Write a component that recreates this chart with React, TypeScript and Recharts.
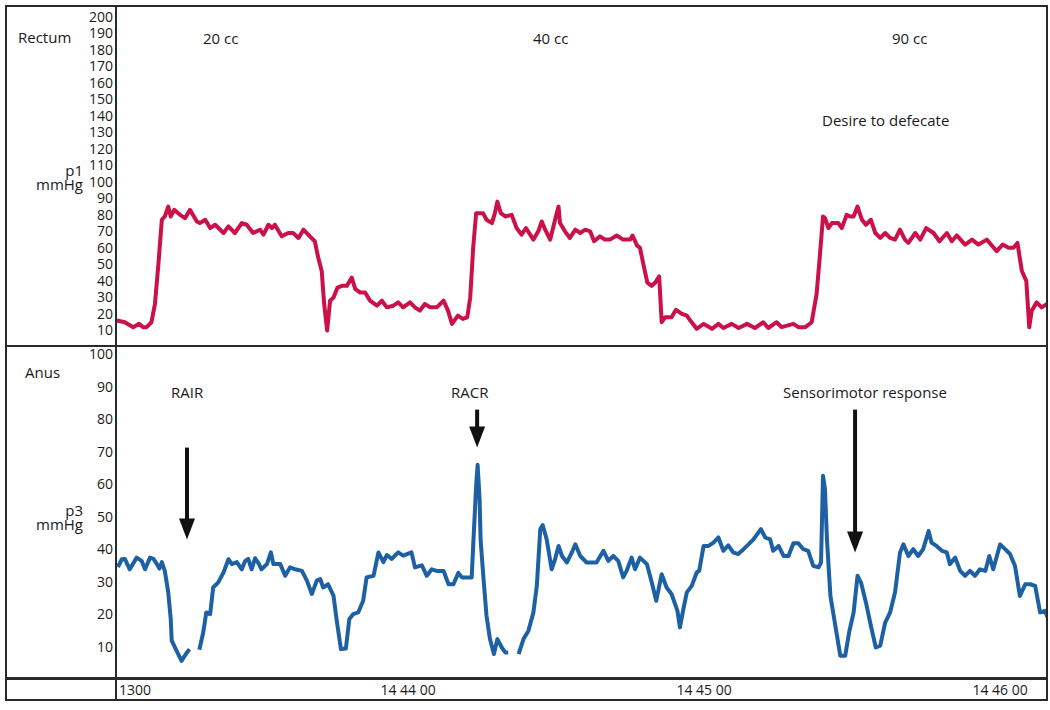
import React from "react";
import { LineChart, Line, XAxis, YAxis, ReferenceLine } from "recharts";

// seconds after 14:43:00, pressure in mmHg
const rectumTrace: [number, number][] = [
  [1.0, 16], [2.6, 15], [4.3, 12], [5.5, 14], [6.3, 12], [7.0, 12], [8.0, 15], [8.7, 26],
  [9.4, 50], [10.1, 77], [10.7, 79], [11.4, 85], [11.9, 79], [12.6, 83], [13.8, 80], [14.8, 78],
  [15.8, 83], [17.2, 76], [17.8, 75], [18.9, 77], [19.9, 72], [20.9, 74], [22.6, 69], [23.6, 73],
  [24.9, 69], [26.3, 75], [27.3, 74], [28.6, 69], [30.0, 71], [30.7, 68], [31.7, 74], [32.4, 72],
  [33.0, 74], [34.4, 67], [35.7, 69], [36.7, 69], [37.8, 66], [38.8, 71], [40.1, 67], [41.1, 64],
  [41.8, 54], [42.5, 46], [43.0, 26], [43.6, 10], [44.2, 28], [44.9, 30], [45.7, 36], [46.6, 37],
  [47.6, 37], [48.6, 42], [49.3, 35], [50.3, 33], [51.3, 33], [52.3, 28], [53.7, 25], [54.7, 28],
  [55.7, 24], [57.0, 25], [58.0, 27], [59.0, 24], [60.4, 27], [61.4, 24], [62.4, 22], [63.4, 26],
  [64.5, 24], [65.8, 24], [67.2, 28], [68.1, 22], [68.9, 14], [70.1, 19], [71.1, 17], [72.0, 18],
  [72.6, 30], [73.2, 60], [73.8, 81], [74.6, 81], [75.2, 81], [75.9, 77], [77.0, 75], [77.6, 81],
  [78.1, 88], [78.8, 81], [79.7, 79], [81.0, 80], [82.0, 72], [83.0, 68], [83.9, 72], [85.4, 65],
  [86.4, 70], [87.1, 76], [87.8, 71], [88.8, 65], [89.8, 77], [90.5, 85], [90.8, 75], [91.8, 70],
  [92.8, 66], [93.9, 71], [94.9, 69], [95.9, 71], [96.9, 70], [97.7, 64], [98.9, 67], [99.9, 65],
  [100.9, 65], [102.3, 67.5], [103.6, 65], [105.0, 65], [105.5, 67.5], [106.4, 61.5], [107.0, 60],
  [107.7, 50], [108.5, 39], [109.4, 37], [110.1, 39], [110.9, 42.7], [111.4, 15], [112.1, 18],
  [113.4, 18], [114.3, 22.5], [115.5, 20], [116.5, 19], [117.2, 16], [118.5, 11], [119.9, 14],
  [121.6, 11], [122.9, 14], [123.9, 11.5], [125.6, 14], [127.0, 11.5], [128.7, 14], [130.3, 11.5],
  [132.0, 15], [133.0, 11.5], [134.7, 15], [135.7, 12], [138.1, 14], [139.1, 12], [140.5, 12],
  [141.8, 15], [142.8, 32], [143.5, 56.5], [144.1, 79], [144.5, 78], [145.2, 72], [145.9, 75],
  [147.2, 75], [147.9, 72], [148.9, 80], [149.6, 79], [150.3, 79], [151.1, 85], [152.0, 77],
  [152.8, 74], [153.8, 77], [154.7, 69], [155.7, 66], [156.7, 69], [157.7, 66], [158.7, 65],
  [159.7, 71], [160.7, 65], [161.4, 63], [162.8, 69], [163.8, 65], [165.0, 72], [166.5, 69],
  [167.7, 64], [169.2, 69], [170.2, 64], [171.2, 67.5], [172.9, 62], [174.3, 65], [175.6, 62],
  [177.3, 65], [179.3, 58], [180.5, 62], [181.7, 60], [182.7, 60], [183.5, 63], [184.4, 46],
  [185.3, 40], [185.9, 12], [186.4, 22], [187.4, 27], [188.4, 24], [189.5, 26],
];

// null = gap in the recording
const anusTrace: [number, number | null][] = [
  [1.2, 34.5], [2.0, 36.9], [2.6, 37], [3.6, 33.8], [5.0, 37.4], [6.0, 36.4], [6.7, 33.8],
  [7.7, 37.4], [8.4, 37], [9.1, 35.4], [9.6, 34], [10.1, 36], [10.7, 33.3], [11.4, 26.7],
  [11.9, 18.5], [12.1, 11.8], [13.1, 8.7], [14.1, 5.6], [14.8, 7.3], [15.7, 9.2], [16.5, null],
  [17.7, 9], [18.5, 14.4], [19.1, 20.5], [19.9, 20], [20.5, 28.2], [21.5, 29.7], [22.6, 32.8],
  [23.6, 36.9], [24.3, 35.4], [25.3, 36], [26.3, 33.8], [27.0, 36.4], [27.6, 37], [28.3, 33.8],
  [29.0, 37.2], [29.7, 35.6], [30.3, 33.8], [31.4, 35.4], [32.2, 39], [32.7, 35.4], [34.1, 35.4],
  [35.1, 31.8], [36.1, 34.4], [37.1, 33.8], [38.5, 33.3], [39.5, 30.3], [40.5, 26.2], [41.5, 30.3],
  [42.2, 30.8], [42.8, 28.2], [43.8, 29.2], [44.9, 25.6], [45.5, 18.5], [46.4, 9.2], [47.4, 9.4],
  [48.1, 18.5], [48.9, 20], [49.9, 20.5], [50.9, 24.1], [51.6, 31.3], [53.0, 31.8], [54.0, 39],
  [55.0, 36], [55.7, 38.2], [56.7, 37], [58.0, 39], [59.0, 38], [60.7, 39], [61.4, 34.4],
  [62.8, 35], [63.8, 31.8], [64.8, 33.8], [65.8, 33.3], [67.2, 33.3], [68.2, 29.2], [69.2, 29.2],
  [70.2, 32.7], [70.9, 31.3], [72.9, 31.3], [73.2, 41], [73.8, 59.5], [74.1, 66], [74.5, 55.4],
  [74.7, 43], [75.3, 30.8], [75.9, 19.5], [76.6, 12.3], [77.4, 7.7], [78.1, 12.3], [79.0, 9.7],
  [79.7, 8.2], [80.3, 8.2], [81.4, null], [82.4, 7.7], [83.4, 12.3], [84.4, 14.9], [85.4, 20.5],
  [86.1, 28.7], [86.8, 46.2], [87.3, 47.4], [88.1, 43], [89.1, 33.8], [89.8, 36.9], [90.5, 41],
  [91.2, 37.9], [92.2, 35.9], [93.2, 39], [93.9, 41.5], [94.9, 37.9], [96.2, 35.9], [98.2, 35.9],
  [99.6, 39.5], [100.6, 36.4], [101.6, 37.9], [102.6, 36.4], [103.6, 31.3], [104.3, 33.3],
  [105.3, 37.4], [106.0, 33.8], [107.0, 37.4], [108.4, 35.4], [109.4, 29.7], [110.3, 24.1],
  [111.4, 32.3], [112.4, 28.2], [113.4, 26.2], [114.6, 21], [115.1, 15.9], [115.8, 21.5],
  [116.5, 26.7], [117.5, 28.7], [118.5, 32.8], [119.0, 33.3], [119.9, 41], [120.9, 41], [121.9, 42],
  [122.9, 43.6], [123.9, 39.5], [124.9, 41.2], [125.9, 39], [126.9, 38.5], [128.0, 40], [129.0, 41.5],
  [130.0, 43], [131.5, 46.2], [132.4, 43.6], [133.4, 43], [134.0, 39.5], [135.1, 41], [136.1, 37.9],
  [137.1, 37.9], [138.1, 41.8], [139.1, 41.8], [140.1, 40], [141.1, 39.5], [142.1, 34.9],
  [143.2, 34.4], [143.7, 35.9], [144.1, 62.6], [144.5, 58.5], [144.9, 43], [145.6, 25.6],
  [146.6, 16.4], [147.6, 7.2], [148.6, 7.2], [149.4, 14.4], [150.3, 20.5], [151.1, 31.8],
  [151.8, 29.7], [152.8, 23.6], [153.8, 16.4], [154.8, 9.7], [155.7, 10.3], [156.7, 17.4],
  [157.7, 20.5], [158.7, 26.7], [159.7, 38.9], [160.4, 41.5], [161.4, 37.9], [162.4, 40],
  [163.4, 37.9], [164.4, 40], [165.5, 45.6], [166.1, 42], [167.1, 41], [168.2, 39.5], [169.2, 39],
  [169.8, 35.4], [170.9, 37.4], [171.9, 33.3], [172.9, 31.8], [173.9, 33.3], [174.9, 31.8],
  [175.9, 33.8], [177.0, 33.3], [177.8, 37.9], [178.6, 33.8], [180.0, 41.5], [181.0, 40],
  [182.0, 38.5], [183.0, 34.9], [184.0, 25.6], [185.1, 29.2], [186.1, 29.2], [187.1, 28.7],
  [188.1, 20.5], [189.1, 21], [189.6, 19],
];

const rectumTicks = [10, 20, 30, 40, 50, 60, 70, 80, 90, 100, 110, 120, 130, 140, 150, 160, 170, 180, 190, 200];
const anusTicks = [10, 20, 30, 40, 50, 60, 70, 80, 90, 100];
const timeTicks = [0.81, 60, 120, 180];
const timeLabels = ["1300", "14 44 00", "14 45 00", "14 46 00"];

// event markers: time, arrow top and tip (mmHg)
const arrows = [
  { t: 15.2, top: 71.3, tip: 43 },
  { t: 74.0, top: 83, tip: 71.3 },
  { t: 150.6, top: 83, tip: 39 },
];

const timeDomain: [number, number] = [0.81, 189.7];
const FONT = "'Open Sans', 'Noto Sans', sans-serif";
const INK = "#1a1a1a";

const rectumData = rectumTrace.map(([t, p]) => ({ t, p }));
const anusData = anusTrace.map(([t, p]) => ({ t, p }));

const tickStyle = { fontSize: 14, fill: INK, fontFamily: FONT };

const ArrowShape = (props: any) => {
  const { x1, y1, x2, y2 } = props;
  const head = 21;
  return (
    <g>
      <line x1={x1} y1={y1} x2={x2} y2={y2 - head + 2} stroke="#111" strokeWidth={4} />
      <polygon points={`${x2 - 8},${y2 - head} ${x2 + 8},${y2 - head} ${x2},${y2}`} fill="#111" />
    </g>
  );
};

const TimeTick = (props: any) => {
  const { x, y, index } = props;
  const first = index === 0;
  return (
    <text
      x={first ? x + 3 : x}
      y={y}
      dy="0.71em"
      textAnchor={first ? "start" : "middle"}
      fontSize={14}
      fontFamily={FONT}
      fill={INK}
    >
      {timeLabels[index]}
    </text>
  );
};

const Note = ({ x, y, children, right }: { x: number; y: number; children: React.ReactNode; right?: boolean }) => (
  <div
    style={{
      position: "absolute",
      top: y - 8,
      left: right ? x - 60 : x,
      width: right ? 60 : undefined,
      textAlign: right ? "right" : "left",
      whiteSpace: "nowrap",
      fontFamily: FONT,
      fontSize: 15,
      lineHeight: "14px",
      color: INK,
    }}
  >
    {children}
  </div>
);

const rule = (left: number, top: number, width: number, height: number) => (
  <div style={{ position: "absolute", left, top, width, height, background: "#2a2a2a" }} />
);

export default function App() {
  return (
    <div style={{ position: "absolute", left: 0, top: 0, width: 1050, height: 710, background: "#fff" }}>
      <div style={{ position: "absolute", left: 5, top: 5 }}>
        <LineChart width={1043} height={342} data={rectumData} margin={{ top: 0, right: 0, bottom: 0, left: 0 }}>
          <XAxis dataKey="t" type="number" domain={timeDomain} allowDataOverflow hide />
          <YAxis
            width={111}
            domain={[0, 207]}
            ticks={rectumTicks}
            interval={0}
            allowDataOverflow
            axisLine={false}
            tickLine={false}
            tickSize={0}
            tickMargin={3}
            tick={tickStyle}
          />
          <Line
            dataKey="p"
            type="linear"
            stroke="#CC1048"
            strokeWidth={4}
            strokeLinejoin="round"
            dot={false}
            isAnimationActive={false}
          />
        </LineChart>
      </div>

      <div style={{ position: "absolute", left: 5, top: 338 }}>
        <LineChart width={1043} height={362} data={anusData} margin={{ top: 8, right: 0, bottom: 0, left: 0 }}>
          <XAxis
            dataKey="t"
            type="number"
            domain={timeDomain}
            allowDataOverflow
            ticks={timeTicks}
            interval={0}
            height={21}
            axisLine={false}
            tickLine={false}
            tickSize={0}
            tickMargin={6}
            tick={<TimeTick />}
          />
          <YAxis
            width={111}
            domain={[0, 102.6]}
            ticks={anusTicks}
            interval={0}
            allowDataOverflow
            axisLine={false}
            tickLine={false}
            tickSize={0}
            tickMargin={3}
            tick={tickStyle}
          />
          {arrows.map((a, i) => (
            <ReferenceLine
              key={i}
              segment={[
                { x: a.t, y: a.top },
                { x: a.t, y: a.tip },
              ]}
              shape={ArrowShape}
            />
          ))}
          <Line
            dataKey="p"
            type="linear"
            stroke="#1E60A4"
            strokeWidth={4}
            strokeLinejoin="round"
            dot={false}
            isAnimationActive={false}
          />
        </LineChart>
      </div>

      {/* frame */}
      <div style={{ position: "absolute", left: 5, top: 5, width: 1043, height: 696, border: "2px solid #2a2a2a", boxSizing: "border-box" }} />
      {rule(115, 5, 2, 696)}
      {rule(5, 345, 1043, 2)}
      {rule(5, 677, 1043, 2.5)}

      <Note x={18} y={38}>Rectum</Note>
      <Note x={83} y={171} right>p1<br />mmHg</Note>
      <Note x={203} y={39}>20 cc</Note>
      <Note x={533} y={39}>40 cc</Note>
      <Note x={892} y={39}>90 cc</Note>
      <Note x={822} y={121}>Desire to defecate</Note>

      <Note x={25} y={373}>Anus</Note>
      <Note x={83} y={511} right>p3<br />mmHg</Note>
      <Note x={171} y={393}>RAIR</Note>
      <Note x={451} y={393}>RACR</Note>
      <Note x={783} y={393}>Sensorimotor response</Note>
    </div>
  );
}
